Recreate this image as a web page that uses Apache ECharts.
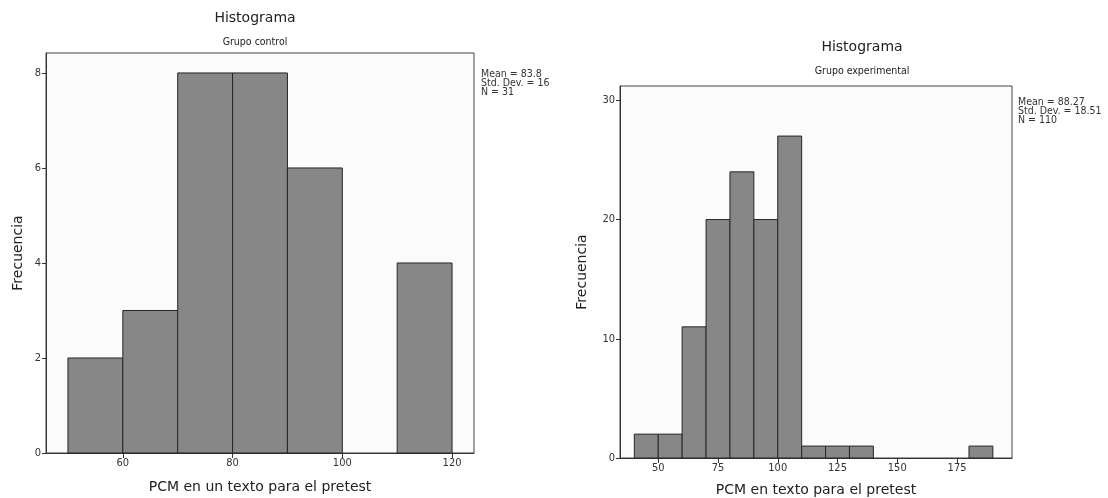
<!DOCTYPE html>
<html>
<head>
<meta charset="utf-8">
<script src="https://cdn.jsdelivr.net/npm/echarts@6/dist/echarts.min.js"></script>
<style>
  html, body { margin: 0; padding: 0; background: #ffffff; }
  #chart { width: 1108px; height: 498px; }
</style>
</head>
<body>
<div id="chart"></div>
<script>
// Histogram bins (lower edges) and frequencies, bin width 10
const binWidth = 10;
const controlBinStarts = [50, 60, 70, 80, 90, 110];
const controlCounts = [2, 3, 8, 8, 6, 4];
const experimentalBinStarts = [40, 50, 60, 70, 80, 90, 100, 110, 120, 130, 180];
const experimentalCounts = [2, 2, 11, 20, 24, 20, 27, 1, 1, 1, 1];

// Tick labels
const controlXTicks = [60, 80, 100, 120];
const controlYTicks = [0, 2, 4, 6, 8];
const experimentalXTicks = [50, 75, 100, 125, 150, 175];
const experimentalYTicks = [0, 10, 20, 30];

// Summary statistics
const controlStats = ['Mean = 83.8', 'Std. Dev. = 16', 'N = 31'];
const experimentalStats = ['Mean = 88.27', 'Std. Dev. = 18.51', 'N = 110'];

const toBins = (starts, counts) => starts.map((s, i) => [s, s + binWidth, counts[i]]);

const smallFamily = '"DejaVu Sans Condensed", "Liberation Sans Narrow", "DejaVu Sans", sans-serif';
const tickFont = { fontFamily: smallFamily, fontSize: 11, color: '#333' };
const nameFont = { fontFamily: 'DejaVu Sans', fontSize: 14, color: '#222' };

function renderBin(params, api) {
  const topLeft = api.coord([api.value(0), api.value(2)]);
  const bottomRight = api.coord([api.value(1), 0]);
  return {
    type: 'rect',
    shape: {
      x: topLeft[0], y: topLeft[1],
      width: bottomRight[0] - topLeft[0],
      height: bottomRight[1] - topLeft[1]
    },
    style: { fill: '#878787', stroke: '#262626', lineWidth: 1 }
  };
}

function xAxisFor(gridIndex, min, max, ticks, name, gap) {
  return {
    type: 'value', gridIndex, min, max,
    name, nameLocation: 'middle', nameGap: gap, nameTextStyle: nameFont,
    axisLine: { show: true, lineStyle: { color: '#333', width: 1 } },
    axisTick: { show: true, inside: false, length: 5, customValues: ticks, lineStyle: { color: '#333' } },
    axisLabel: { customValues: ticks, margin: 5, ...tickFont },
    splitLine: { show: false }
  };
}

function yAxisFor(gridIndex, max, ticks, gap) {
  return {
    type: 'value', gridIndex, min: 0, max,
    name: 'Frecuencia', nameLocation: 'middle', nameGap: gap, nameTextStyle: nameFont,
    axisLine: { show: true, lineStyle: { color: '#333', width: 1 } },
    axisTick: { show: true, inside: false, length: 4, customValues: ticks, lineStyle: { color: '#333' } },
    axisLabel: { customValues: ticks, margin: 5, ...tickFont },
    splitLine: { show: false }
  };
}

function textBlock(x, y, lines) {
  return {
    type: 'text', left: x, top: y,
    style: {
      text: lines.join('\n'),
      font: '10.5px ' + smallFamily,
      lineHeight: 9,
      fill: '#333'
    }
  };
}

function heading(cx, y, title, sub) {
  return [
    { type: 'text', x: cx, y: y, style: { text: title, font: '14px "DejaVu Sans"', fill: '#222', align: 'center', verticalAlign: 'middle' } },
    { type: 'text', x: cx, y: y + 24, style: { text: sub, font: '10.5px ' + smallFamily, fill: '#222', align: 'center', verticalAlign: 'middle' } }
  ];
}

const chart = echarts.init(document.getElementById('chart'), null, { renderer: 'canvas' });

chart.setOption({
  backgroundColor: '#ffffff',
  animation: false,
  grid: [
    { left: 46, right: 634, top: 53, bottom: 45, outerBoundsMode: 'none', containLabel: false,
      show: true, borderColor: '#444', borderWidth: 1, backgroundColor: '#fbfbfb' },
    { left: 620, right: 96, top: 86, bottom: 40, outerBoundsMode: 'none', containLabel: false,
      show: true, borderColor: '#444', borderWidth: 1, backgroundColor: '#fbfbfb' }
  ],
  xAxis: [
    xAxisFor(0, 46, 124, controlXTicks, 'PCM en un texto para el pretest', 27),
    xAxisFor(1, 34, 198, experimentalXTicks, 'PCM en texto para el pretest', 25)
  ],
  yAxis: [
    yAxisFor(0, 8.42, controlYTicks, 21),
    yAxisFor(1, 31.2, experimentalYTicks, 31)
  ],
  series: [
    {
      type: 'custom', xAxisIndex: 0, yAxisIndex: 0,
      renderItem: renderBin,
      encode: { x: [0, 1], y: 2 },
      data: toBins(controlBinStarts, controlCounts)
    },
    {
      type: 'custom', xAxisIndex: 1, yAxisIndex: 1,
      renderItem: renderBin,
      encode: { x: [0, 1], y: 2 },
      data: toBins(experimentalBinStarts, experimentalCounts)
    }
  ],
  graphic: [
    ...heading(255, 18, 'Histograma', 'Grupo control'),
    ...heading(862, 47, 'Histograma', 'Grupo experimental'),
    textBlock(481, 69, controlStats),
    textBlock(1018, 97, experimentalStats)
  ]
});
</script>
</body>
</html>
